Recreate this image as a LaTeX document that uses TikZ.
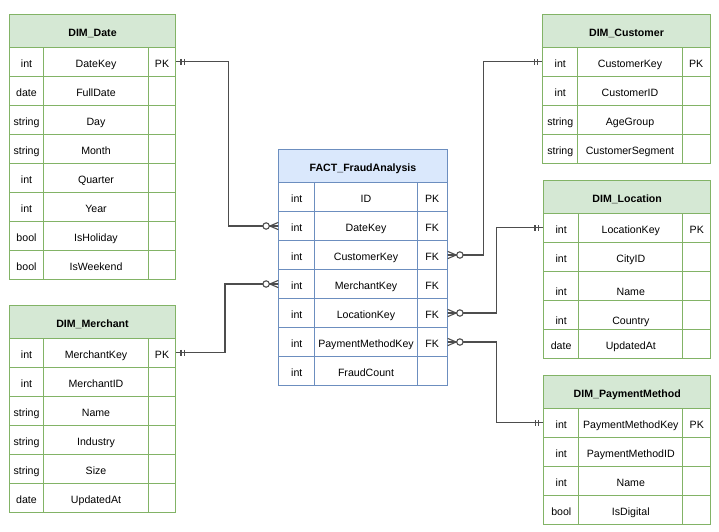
\documentclass[tikz,border=0pt]{standalone}
\usepackage{fontspec}
\setmainfont{Liberation Sans}
\usetikzlibrary{calc}
\definecolor{gstroke}{HTML}{82B366}
\definecolor{gfill}{HTML}{D5E8D4}
\definecolor{bstroke}{HTML}{6C8EBF}
\definecolor{bfill}{HTML}{DAE8FC}
\definecolor{lnk}{HTML}{4D4D4D}
\tikzset{
  base/.style={inner sep=0pt, anchor=north west, line width=1pt, text height=11pt, text depth=0pt, font=\fontsize{10.6}{12}\selectfont},
  greencell/.style={base, draw=gstroke, minimum height=29pt},
  greenhead/.style={base, draw=gstroke, fill=gfill, minimum height=32.7pt, font=\fontsize{10.6}{12}\selectfont\bfseries},
  bluecell/.style={base, draw=bstroke, minimum height=29pt},
  bluehead/.style={base, draw=bstroke, fill=bfill, minimum height=32.7pt, font=\fontsize{10.6}{12}\selectfont\bfseries},
  conn/.style={draw=lnk, line width=1.1pt},
  mone/.pic={\draw[conn] (4.7,-2.8) -- (4.7,2.8) (8,-2.8) -- (8,2.8);},
  zmany/.pic={\draw[conn] (0,-3.6) -- (8.5,0) -- (0,3.6) (0,0) -- (9,0); \draw[conn, fill=white] (12.2,0) circle (3.2);}
}
\newcommand\lowtext[1]{\raisebox{-4.5pt}{#1}}
\newcommand\ertab[9]{%
  \node[#7head, minimum width={#4+#5+#6}] (#1-h) at (#2,#3) {#8};
  \foreach[count=\i] \colA/\colB/\colC in {#9}{
    \pgfmathsetmacro\yy{#3+32.7+29*(\i-1)}
    \node[#7cell, minimum width=#4] (#1-\i-a) at (#2,\yy) {\colA};
    \node[#7cell, minimum width=#5] (#1-\i-b) at ({#2+#4},\yy) {\colB};
    \node[#7cell, minimum width=#6] (#1-\i-c) at ({#2+#4+#5},\yy) {\colC};
  }
}
\begin{document}
\begin{tikzpicture}[x=1pt,y=-1pt]
\useasboundingbox (0,0) rectangle (719,531);
\ertab{dd}{8.7}{14}{34.6}{104.4}{27.6}{green}{DIM\_Date}{int/DateKey/PK, date/FullDate/{}, string/Day/{}, string/Month/{}, int/Quarter/{}, int/Year/{}, bool/IsHoliday/{}, bool/IsWeekend/{}}
\ertab{dm}{8.7}{305}{34.6}{104.4}{27.6}{green}{DIM\_Merchant}{int/MerchantKey/PK, int/MerchantID/{}, string/Name/{}, string/Industry/{}, string/Size/{}, date/UpdatedAt/{}}
\ertab{fa}{278.3}{149.3}{36}{102.4}{30}{blue}{FACT\_FraudAnalysis}{int/ID/PK, int/DateKey/FK, int/CustomerKey/FK, int/MerchantKey/FK, int/LocationKey/FK, int/PaymentMethodKey/FK, int/FraudCount/{}}
\ertab{dc}{542.3}{14}{35}{104.4}{28}{green}{DIM\_Customer}{int/CustomerKey/PK, int/CustomerID/{}, string/AgeGroup/{}, string/CustomerSegment/{}}
\ertab{dl}{543}{180}{35.3}{104}{28}{green}{DIM\_Location}{int/LocationKey/PK, int/CityID/{}, \lowtext{int}/\lowtext{Name}/{}, \lowtext{int}/\lowtext{Country}/{}, date/UpdatedAt/{}}
\ertab{dp}{543.3}{375}{35}{104}{28}{green}{DIM\_PaymentMethod}{int/PaymentMethodKey/PK, int/PaymentMethodID/{}, int/Name/{}, bool/IsDigital/{}}
% connectors
\draw[conn] (dd-1-c.east) -- ++(52,0) |- (fa-2-a.west);
\draw[conn] (dm-1-c.east) -- ++(48.7,0) |- (fa-4-a.west);
\draw[conn] (fa-3-c.east) -- ++(36,0) |- (dc-1-a.west);
\draw[conn] (fa-5-c.east) -- ++(49,0) |- (dl-1-a.west);
\draw[conn] (fa-6-c.east) -- ++(49,0) |- (dp-1-a.west);
% ends
\pic at (dd-1-c.east) {mone};
\pic at (dm-1-c.east) {mone};
\pic[rotate=180] at (dc-1-a.west) {mone};
\pic[rotate=180] at (dl-1-a.west) {mone};
\pic[rotate=180] at (dp-1-a.west) {mone};
\pic[rotate=180] at (fa-2-a.west) {zmany};
\pic[rotate=180] at (fa-4-a.west) {zmany};
\pic at (fa-3-c.east) {zmany};
\pic at (fa-5-c.east) {zmany};
\pic at (fa-6-c.east) {zmany};
\end{tikzpicture}
\end{document}
